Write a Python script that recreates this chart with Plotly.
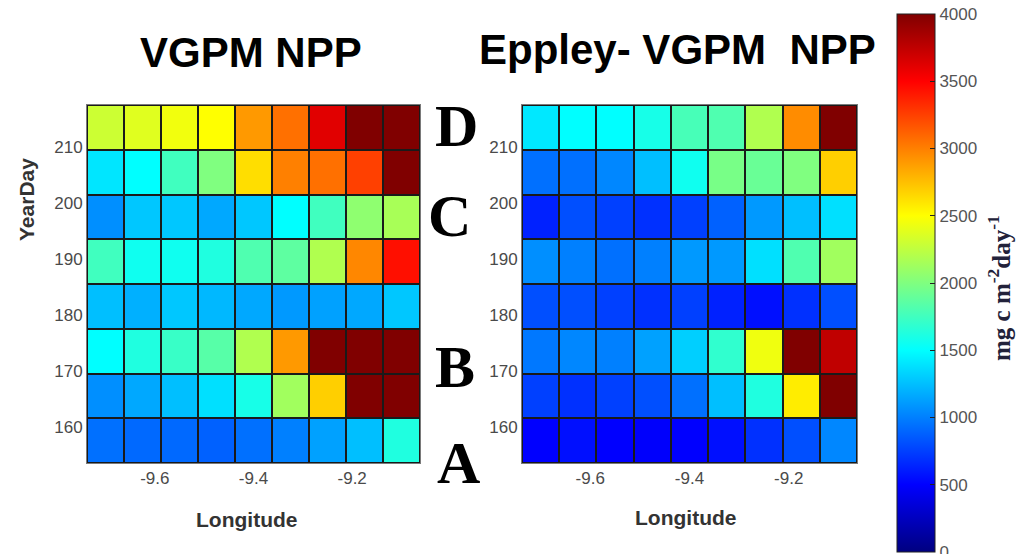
import plotly.graph_objects as go

# ---- data ----
longitude = [-9.700, -9.625, -9.550, -9.475, -9.400, -9.325, -9.250, -9.175, -9.100]
year_day = [157.5, 165.5, 173.5, 181.5, 189.5, 197.5, 205.5, 213.5]

# VGPM NPP (mg C m-2 day-1), rows bottom (day 157.5) to top (day 213.5)
vgpm_npp = [
    [940, 910, 910, 880, 940, 1000, 1130, 1250, 1620],
    [1060, 1160, 1250, 1380, 1590, 2130, 2690, 4000, 4000],
    [1500, 1620, 1720, 1840, 2190, 2900, 4000, 4000, 4000],
    [1250, 1190, 1280, 1220, 1160, 1100, 1130, 1160, 1280],
    [1750, 1560, 1560, 1620, 1810, 1870, 2190, 2970, 3440],
    [1060, 1280, 1280, 1160, 1280, 1500, 1750, 2060, 2160],
    [1400, 1500, 1750, 2000, 2630, 3000, 3060, 3250, 4000],
    [2300, 2380, 2450, 2500, 2900, 3060, 3620, 4000, 4000],
]

# Eppley - VGPM NPP
eppley_npp = [
    [500, 560, 500, 490, 500, 560, 690, 810, 1030],
    [750, 690, 750, 810, 940, 1250, 1620, 2570, 4000],
    [970, 1030, 1000, 1130, 1310, 1690, 2440, 4000, 3750],
    [810, 810, 750, 690, 750, 630, 560, 690, 810],
    [1060, 1000, 940, 1000, 1100, 1100, 1380, 1810, 2130],
    [630, 810, 750, 690, 750, 880, 1100, 1250, 1380],
    [940, 940, 1030, 1250, 1560, 1970, 1910, 2000, 2690],
    [1410, 1500, 1500, 1590, 1780, 1810, 2190, 2950, 4000],
]

x_tickvals = [-9.6, -9.4, -9.2]
x_ticktext = ["-9.6", "-9.4", "-9.2"]
y_tickvals = [160, 170, 180, 190, 200, 210]
cbar_tickvals = [0, 500, 1000, 1500, 2000, 2500, 3000, 3500, 4000]
panel_titles = ["VGPM NPP", "Eppley- VGPM \u00a0NPP"]
period_labels = ["D", "C", "B", "A"]

# MATLAB jet
jet = [
    [0.0, "rgb(0,0,128)"],
    [0.125, "rgb(0,0,255)"],
    [0.375, "rgb(0,255,255)"],
    [0.625, "rgb(255,255,0)"],
    [0.875, "rgb(255,0,0)"],
    [1.0, "rgb(128,0,0)"],
]

W, H = 1023, 554
def px(x):
    return x / W
def py(y):
    return 1 - y / H

fig = go.Figure()
fig.add_trace(go.Heatmap(x=longitude, y=year_day, z=vgpm_npp, coloraxis="coloraxis",
                         xgap=2, ygap=2, xaxis="x", yaxis="y"))
fig.add_trace(go.Heatmap(x=longitude, y=year_day, z=eppley_npp, coloraxis="coloraxis",
                         xgap=2, ygap=2, xaxis="x2", yaxis="y2"))

ydom = [py(463), py(105)]
tick_font = dict(family="Liberation Sans, Arial", size=17, color="#4a4a4a")
axis_common = dict(showgrid=False, zeroline=False, showline=True, linecolor="#7a7a7a",
                   linewidth=1, mirror=True, ticks="", tickfont=tick_font)
xr = [-9.7375, -9.0625]
yr = [153.5, 217.5]

fig.update_layout(
    width=W, height=H,
    margin=dict(l=0, r=0, t=0, b=0),
    paper_bgcolor="white",
    plot_bgcolor="#1a1a1a",
    xaxis=dict(domain=[px(87), px(420)], range=xr, tickvals=x_tickvals, ticktext=x_ticktext,
               anchor="y", **axis_common),
    yaxis=dict(domain=ydom, range=yr, tickvals=y_tickvals, anchor="x", **axis_common),
    xaxis2=dict(domain=[px(522), px(857)], range=xr, tickvals=x_tickvals, ticktext=x_ticktext,
                anchor="y2", **axis_common),
    yaxis2=dict(domain=ydom, range=yr, tickvals=y_tickvals, anchor="x2", **axis_common),
    coloraxis=dict(
        cmin=0, cmax=4000, colorscale=jet,
        colorbar=dict(
            x=px(897), xanchor="left", xpad=0,
            y=py(283), yanchor="middle", ypad=0,
            len=538 / H, lenmode="fraction",
            thickness=38, thicknessmode="pixels",
            outlinewidth=1, outlinecolor="#222222",
            tickvals=cbar_tickvals, ticks="inside", ticklen=5, tickcolor="#222222",
            ticklabeloverflow="allow",
            tickfont=dict(family="Liberation Sans, Arial", size=17, color="#555555"),
        ),
    ),
    showlegend=False,
)

ann = []
title_font = dict(family="Liberation Sans, Arial", size=42, color="black")
ann.append(dict(text="<b>" + panel_titles[0] + "</b>", x=px(251), y=py(52), xref="paper", yref="paper",
                showarrow=False, xanchor="center", yanchor="middle", font=title_font))
ann.append(dict(text="<b>" + panel_titles[1] + "</b>", x=px(677), y=py(50), xref="paper", yref="paper",
                showarrow=False, xanchor="center", yanchor="middle", font=title_font))

lab_font = dict(family="Liberation Sans, Arial", size=21, color="#333333")
ann.append(dict(text="<b>Longitude</b>", x=px(246), y=py(519), xref="paper", yref="paper",
                showarrow=False, xanchor="center", yanchor="middle", font=lab_font))
ann.append(dict(text="<b>Longitude</b>", x=px(685), y=py(517), xref="paper", yref="paper",
                showarrow=False, xanchor="center", yanchor="middle", font=lab_font))
ann.append(dict(text="<b>YearDay</b>", x=px(26), y=py(200), xref="paper", yref="paper",
                showarrow=False, xanchor="center", yanchor="middle", textangle=-90, font=lab_font))

letter_pos = [(456, 126), (449, 216), (455, 367), (458, 463)]
letter_font = dict(family="Liberation Serif, Times New Roman", size=60, color="black")
for lab, (lx, ly) in zip(period_labels, letter_pos):
    ann.append(dict(text="<b>" + lab + "</b>", x=px(lx), y=py(ly), xref="paper", yref="paper",
                    showarrow=False, xanchor="center", yanchor="middle", font=letter_font))

ann.append(dict(text="<b>mg c m<sup>-2</sup>day<sup>-1</sup></b>", x=px(999), y=py(288),
                xref="paper", yref="paper", showarrow=False, xanchor="center", yanchor="middle",
                textangle=-90,
                font=dict(family="Liberation Serif, Times New Roman", size=25, color="#22223a")))

fig.update_layout(annotations=ann)
fig.write_html("out.html")
